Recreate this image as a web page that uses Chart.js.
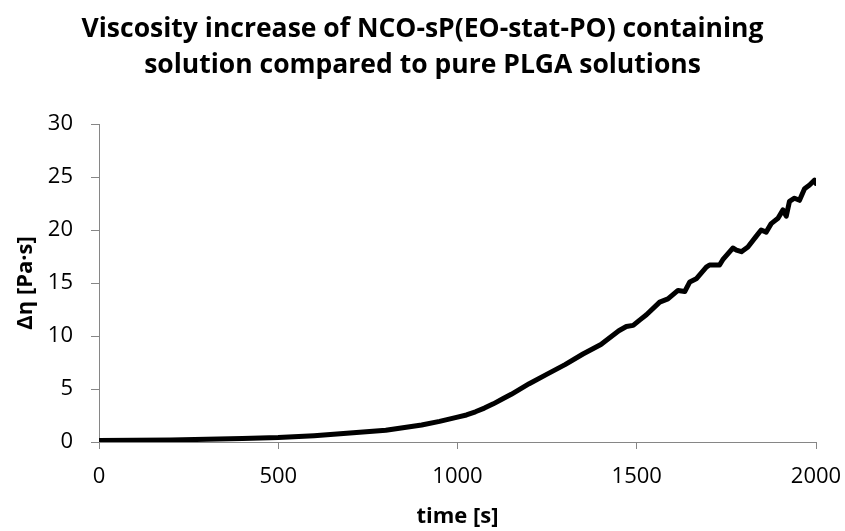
<!DOCTYPE html>
<html>
<head>
<meta charset="utf-8">
<script src="https://cdn.jsdelivr.net/npm/chart.js@4.4.1/dist/chart.umd.min.js"></script>
<style>
  html, body { margin: 0; padding: 0; background: #fff; }
  #wrap { width: 845px; height: 531px; }
</style>
</head>
<body>
<div id="wrap"><canvas id="c" width="845" height="531"></canvas></div>
<script>
// time [s]
const timeValues = [0, 100, 200, 300, 400, 500, 600, 700, 800, 900, 950, 1000, 1025, 1050, 1075, 1100, 1125, 1150, 1200, 1250, 1300, 1350, 1400, 1450, 1471, 1490, 1508, 1527, 1564, 1587, 1615, 1634, 1648, 1666, 1694, 1703, 1731, 1740, 1768, 1778, 1792, 1810, 1833, 1847, 1861, 1875, 1894, 1908, 1917, 1926, 1940, 1954, 1968, 1982, 1996, 2000];
// Δη [Pa·s]
const viscosityValues = [0.15, 0.17, 0.2, 0.25, 0.32, 0.42, 0.6, 0.85, 1.1, 1.6, 1.95, 2.35, 2.55, 2.85, 3.2, 3.6, 4.05, 4.5, 5.5, 6.4, 7.3, 8.3, 9.2, 10.5, 10.9, 11.0, 11.5, 12.0, 13.2, 13.5, 14.3, 14.2, 15.1, 15.4, 16.5, 16.7, 16.7, 17.2, 18.3, 18.1, 17.95, 18.4, 19.4, 20.0, 19.8, 20.6, 21.1, 21.9, 21.3, 22.7, 23.0, 22.8, 23.9, 24.25, 24.7, 24.4];
const titleLines = ['Viscosity increase of NCO-sP(EO-stat-PO) containing', 'solution compared to pure PLGA solutions'];
const xAxisTitle = 'time [s]';
const yAxisTitle = 'Δη [Pa·s]';

const points = timeValues.map((t, i) => ({ x: t, y: viscosityValues[i] }));
const axisGrey = '#868686';
const fontFamily = '"Open Sans", Lato, sans-serif';

new Chart(document.getElementById('c'), {
  type: 'scatter',
  data: {
    datasets: [{
      data: points,
      showLine: true,
      borderColor: '#000',
      borderWidth: 5,
      pointRadius: 0,
      tension: 0,
      borderJoinStyle: 'round',
      borderCapStyle: 'round'
    }]
  },
  options: {
    responsive: false,
    animation: false,
    layout: { padding: { left: 0, right: 0, top: 0, bottom: 0 } },
    plugins: {
      legend: { display: false },
      tooltip: { enabled: false },
      title: {
        display: true,
        text: titleLines,
        color: '#000',
        font: { family: fontFamily, size: 26.5, weight: 'bold', lineHeight: 36 / 26.5 },
        padding: { top: 11, bottom: 41 }
      }
    },
    scales: {
      x: {
        type: 'linear',
        min: 0, max: 2000,
        afterFit: (s) => { s.height = 89; s.paddingRight = 29; s.paddingLeft = 0; },
        border: { display: true, color: axisGrey, width: 1 },
        grid: { drawOnChartArea: false, drawTicks: true, tickLength: 7, color: axisGrey },
        ticks: { stepSize: 500, color: '#000', padding: 15, maxRotation: 0, font: { family: fontFamily, size: 22 }, callback: (v) => String(v) },
        title: { display: true, text: xAxisTitle, color: '#000', padding: { top: 0, bottom: 1.5 }, font: { family: fontFamily, size: 22, weight: 'bold' } }
      },
      y: {
        type: 'linear',
        min: 0, max: 30,
        afterFit: (s) => { s.width = 99; s.paddingTop = 0; s.paddingBottom = 0; },
        border: { display: true, color: axisGrey, width: 1 },
        grid: { drawOnChartArea: false, drawTicks: true, tickLength: 8, color: axisGrey },
        ticks: { stepSize: 5, color: '#000', padding: 18, font: { family: fontFamily, size: 22 }, callback: (v) => String(v) },
        title: { display: true, text: yAxisTitle, color: '#000', padding: { top: 13, bottom: 0 }, font: { family: fontFamily, size: 22, weight: 'bold' } }
      }
    }
  }
});
</script>
</body>
</html>
